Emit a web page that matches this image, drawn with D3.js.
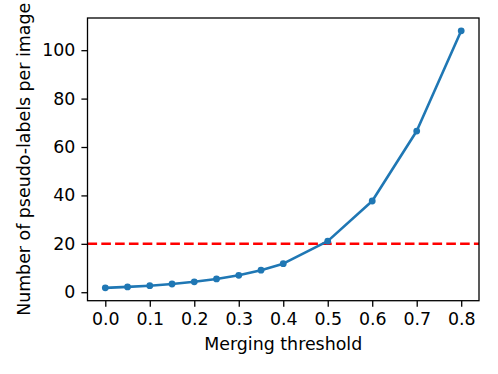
<!DOCTYPE html>
<html>
<head>
<meta charset="utf-8">
<script src="https://cdn.jsdelivr.net/npm/d3@7"></script>
<style>
  body { margin: 0; background: #fff; }
  svg { display: block; font-family: "DejaVu Sans", sans-serif; }
</style>
</head>
<body>
<svg id="chart" width="498" height="374"></svg>
<script>
// Data.
const thresholds = [0.0, 0.05, 0.1, 0.15, 0.2, 0.25, 0.3, 0.35, 0.4, 0.5, 0.6, 0.7, 0.8];
const labelsPerImage = [1.8, 2.2, 2.7, 3.4, 4.3, 5.5, 7.0, 9.1, 11.8, 21.1, 37.7, 66.6, 108.0];
const xTicks = [0.0, 0.1, 0.2, 0.3, 0.4, 0.5, 0.6, 0.7, 0.8];
const yTicks = [0, 20, 40, 60, 80, 100];
const refLevel = 20;

const margin = { left: 87.5, top: 18, right: 19, bottom: 73.3 };
const width = 498, height = 374;
const svg = d3.select("#chart");

const x = d3.scaleLinear()
    .domain([-0.04, 0.84])
    .range([margin.left, width - margin.right]);
const y = d3.scaleLinear()
    .domain([-3.5, 113.3])
    .range([height - margin.bottom, margin.top]);

const fontSize = 17.4; // 10pt at ~125 dpi
const tickLen = 6.1;
const lw = 2.6;

// x axis
const xAxis = svg.append("g")
    .attr("transform", `translate(0,${height - margin.bottom})`)
    .call(d3.axisBottom(x).tickValues(xTicks).tickFormat(d3.format(".1f"))
        .tickSizeInner(tickLen).tickSizeOuter(0).tickPadding(6));
xAxis.select(".domain").remove();
xAxis.selectAll("line").attr("stroke", "#000").attr("stroke-width", 1.3);
xAxis.selectAll("text").attr("font-size", fontSize).attr("fill", "#000")
    .attr("font-family", "DejaVu Sans");

// y axis
const yAxis = svg.append("g")
    .attr("transform", `translate(${margin.left},0)`)
    .call(d3.axisLeft(y).tickValues(yTicks).tickFormat(d3.format("d"))
        .tickSizeInner(tickLen).tickSizeOuter(0).tickPadding(6));
yAxis.select(".domain").remove();
yAxis.selectAll("line").attr("stroke", "#000").attr("stroke-width", 1.3);
yAxis.selectAll("text").attr("font-size", fontSize).attr("fill", "#000")
    .attr("font-family", "DejaVu Sans");

// reference line
svg.append("line")
    .attr("x1", x.range()[0]).attr("x2", x.range()[1])
    .attr("y1", y(refLevel)).attr("y2", y(refLevel))
    .attr("stroke", "#ff0000")
    .attr("stroke-width", lw)
    .attr("stroke-dasharray", "9.6,4.2");

// series
const pts = thresholds.map((t, i) => ({ t: t, v: labelsPerImage[i] }));
svg.append("path")
    .datum(pts)
    .attr("fill", "none")
    .attr("stroke", "#1f77b4")
    .attr("stroke-width", lw)
    .attr("stroke-linejoin", "round")
    .attr("d", d3.line().x(d => x(d.t)).y(d => y(d.v)));

svg.append("g").selectAll("circle")
    .data(pts)
    .join("circle")
    .attr("cx", d => x(d.t))
    .attr("cy", d => y(d.v))
    .attr("r", 3.4)
    .attr("fill", "#1f77b4");

// frame (spines)
svg.append("rect")
    .attr("x", x.range()[0]).attr("y", y.range()[1])
    .attr("width", x.range()[1] - x.range()[0])
    .attr("height", y.range()[0] - y.range()[1])
    .attr("fill", "none")
    .attr("stroke", "#000")
    .attr("stroke-width", 1.3);

// axis labels
svg.append("text")
    .attr("x", (x.range()[0] + x.range()[1]) / 2)
    .attr("y", 350)
    .attr("text-anchor", "middle")
    .attr("font-size", fontSize)
    .text("Merging threshold");

svg.append("text")
    .attr("transform", `translate(30,${(y.range()[0] + y.range()[1]) / 2}) rotate(-90)`)
    .attr("text-anchor", "middle")
    .attr("font-size", fontSize)
    .text("Number of pseudo-labels per image");
</script>
</body>
</html>
